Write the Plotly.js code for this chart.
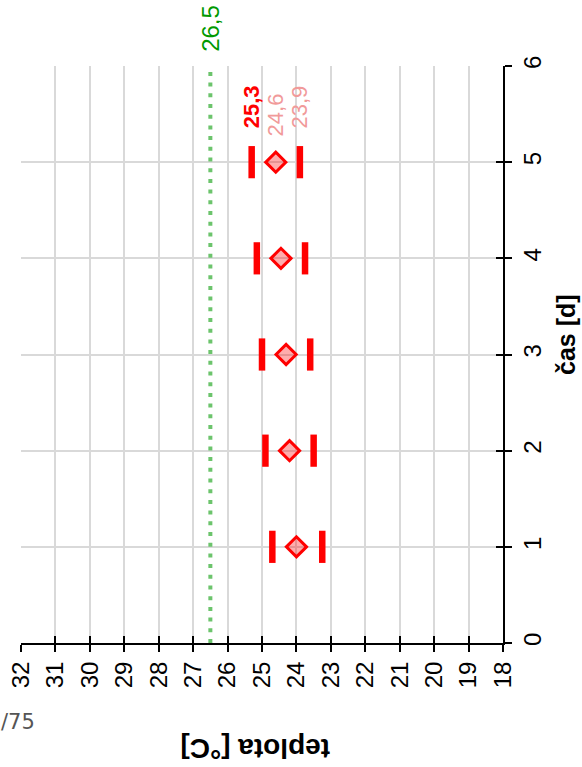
<!DOCTYPE html>
<html>
<head>
<meta charset="utf-8">
<script src="https://cdn.plot.ly/plotly-3.0.1.min.js"></script>
<style>
  html, body { margin: 0; padding: 0; background: #ffffff; }
  #chart { width: 582px; height: 767px; }
</style>
</head>
<body>
<div id="chart"></div>
<script>
// Daily temperature readings (°C) per day of the run
const days = [1, 2, 3, 4, 5];
const tMax = [24.7, 24.9, 25.0, 25.15, 25.3];
const tMean = [24.0, 24.2, 24.3, 24.45, 24.6];
const tMin = [23.25, 23.5, 23.6, 23.75, 23.9];
// Reference limit
const limit = 26.5;
const limitSpan = [0, 6];

const tempTicks = [32, 31, 30, 29, 28, 27, 26, 25, 24, 23, 22, 21, 20, 19, 18];
const dayTicks = [0, 1, 2, 3, 4, 5, 6];

const FONT = '"Liberation Sans", Arial, sans-serif';
const RED = '#ff0000';
const fmt = v => v.toFixed(1).replace('.', ',');
const last = days.length - 1;

const traces = [
  {
    x: [limit, limit], y: limitSpan, mode: 'lines', hoverinfo: 'skip',
    line: { color: '#6cc46c', width: 4, dash: '4px,6.7px' }
  },
  {
    x: tMax, y: days, mode: 'markers',
    marker: { symbol: 'line-ns', size: 23, color: RED, line: { color: RED, width: 6.5 } }
  },
  {
    x: tMin, y: days, mode: 'markers',
    marker: { symbol: 'line-ns', size: 23, color: RED, line: { color: RED, width: 6.5 } }
  },
  {
    x: tMean, y: days, mode: 'markers',
    marker: { symbol: 'diamond', size: 15.5, color: 'rgba(255,0,0,0.32)', line: { color: RED, width: 3 } }
  },
  // helper trace so the tick-crossing overlay axes are drawn
  { x: [limit], y: [0], xaxis: 'x2', yaxis: 'y2', mode: 'markers', marker: { opacity: 0 }, hoverinfo: 'skip' }
];

const axisCommon = {
  showline: true, linecolor: '#000000', linewidth: 2,
  ticks: 'outside', ticklen: 7, tickwidth: 2, tickcolor: '#000000',
  gridcolor: '#d9d9d9', gridwidth: 2, zeroline: false,
  tickangle: -90, tickfont: { family: FONT, size: 24, color: '#000000' }
};

const layout = {
  width: 582, height: 767,
  margin: { l: 21, r: 79, t: 66, b: 124 },
  paper_bgcolor: '#ffffff', plot_bgcolor: '#ffffff',
  showlegend: false,
  font: { family: FONT },
  xaxis: Object.assign({}, axisCommon, {
    range: [32, 18], tickmode: 'array', tickvals: tempTicks, ticktext: tempTicks.map(String)
  }),
  yaxis: Object.assign({}, axisCommon, {
    range: [0, 6], side: 'right', tickmode: 'array', tickvals: dayTicks, ticktext: dayTicks.map(String)
  }),
  xaxis2: {
    overlaying: 'x', anchor: 'y2', range: [32, 18], tickmode: 'array', tickvals: tempTicks,
    ticks: 'inside', ticklen: 7, tickwidth: 2, tickcolor: '#000000',
    showticklabels: false, showgrid: false, zeroline: false, showline: false
  },
  yaxis2: {
    overlaying: 'y', anchor: 'x2', side: 'right', range: [0, 6], tickmode: 'array', tickvals: dayTicks,
    ticks: 'inside', ticklen: 7, tickwidth: 2, tickcolor: '#000000',
    showticklabels: false, showgrid: false, zeroline: false, showline: false
  },
  annotations: [
    {
      text: fmt(limit), x: limit, xref: 'x', y: 1, yref: 'paper',
      xanchor: 'center', yanchor: 'bottom', yshift: 12, textangle: -90, showarrow: false,
      font: { family: FONT, size: 24, color: '#009900' }
    },
    {
      text: '<b>' + fmt(tMax[last]) + '</b>', x: tMax[last], xref: 'x', y: days[last], yref: 'y',
      xanchor: 'center', yanchor: 'bottom', yshift: 32, textangle: -90, showarrow: false,
      font: { family: FONT, size: 22, color: RED }
    },
    {
      text: fmt(tMean[last]), x: tMean[last], xref: 'x', y: days[last], yref: 'y',
      xanchor: 'center', yanchor: 'bottom', yshift: 24, textangle: -90, showarrow: false,
      font: { family: FONT, size: 22, color: '#f19a9a' }
    },
    {
      text: fmt(tMin[last]), x: tMin[last], xref: 'x', y: days[last], yref: 'y',
      xanchor: 'center', yanchor: 'bottom', yshift: 32, textangle: -90, showarrow: false,
      font: { family: FONT, size: 22, color: '#f19a9a' }
    },
    {
      text: '<b>čas [d]</b>', x: 1.131, xref: 'paper', y: 0.534, yref: 'paper',
      xanchor: 'center', yanchor: 'middle', textangle: -90, showarrow: false,
      font: { family: FONT, size: 25, color: '#000000' }
    },
    {
      text: '<b>teplota [°C]</b>', x: 0.4855, xref: 'paper', y: -0.184, yref: 'paper',
      xanchor: 'center', yanchor: 'middle', textangle: 180, showarrow: false,
      font: { family: FONT, size: 28, color: '#000000' }
    },
    {
      text: '/75', x: -0.046, xref: 'paper', y: -0.137, yref: 'paper',
      xanchor: 'left', yanchor: 'middle', showarrow: false,
      font: { family: '"DejaVu Sans", sans-serif', size: 21, color: '#555555' }
    }
  ]
};

Plotly.newPlot('chart', traces, layout, { staticPlot: true, displayModeBar: false });
</script>
</body>
</html>
